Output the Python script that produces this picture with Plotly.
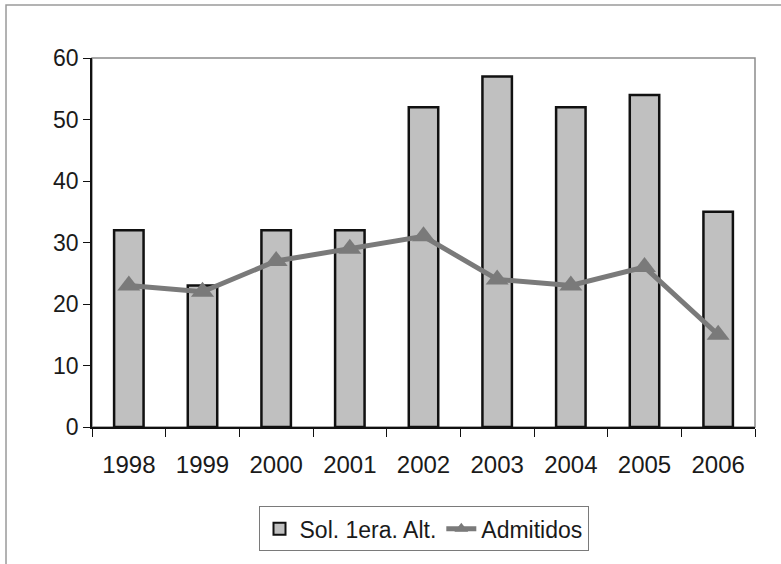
import plotly.graph_objects as go

years = ["1998", "1999", "2000", "2001", "2002", "2003", "2004", "2005", "2006"]
solicitudes = [32, 23, 32, 32, 52, 57, 52, 54, 35]
admitidos = [23, 22, 27, 29, 31, 24, 23, 26, 15]

FONT = "Liberation Sans, Arial, sans-serif"

fig = go.Figure()
fig.add_trace(go.Bar(
    x=years, y=solicitudes, name="Sol. 1era. Alt.",
    marker=dict(color="#c0c0c0", line=dict(color="#111111", width=2.5)),
))
fig.add_trace(go.Scatter(
    x=years, y=admitidos, name="Admitidos", mode="lines+markers",
    line=dict(color="#7a7a7a", width=5),
    marker=dict(symbol="triangle-up", size=20, color="#7a7a7a"),
))

# plot-area box (gray) and outer chart border
fig.add_shape(type="rect", xref="paper", yref="paper", x0=0, x1=1, y0=0, y1=1,
              line=dict(color="#8c8c8c", width=1.5), layer="below")
fig.add_shape(type="rect", xref="paper", yref="paper", x0=-0.1297, x1=1.06, y0=-0.40, y1=1.1436,
              line=dict(color="#9a9a9a", width=1.5), layer="below")

fig.update_layout(
    width=781, height=564,
    margin=dict(l=92, r=26, t=58, b=137),
    paper_bgcolor="white", plot_bgcolor="white",
    font=dict(family=FONT, size=23, color="#1a1a1a"),
    bargap=0.6,
    showlegend=True,
    legend=dict(orientation="h", x=0.5, xanchor="center", y=-0.215, yanchor="top",
                bordercolor="#7a7a7a", borderwidth=1, bgcolor="white",
                font=dict(family=FONT, size=23, color="#1a1a1a"),
                itemsizing="constant", traceorder="normal"),
    xaxis=dict(range=[-0.5, len(years) - 0.5], showline=True, linecolor="#111111", linewidth=1.5,
               ticks="outside", ticklen=8, tickcolor="#111111", tickson="boundaries",
               showgrid=False, tickfont=dict(size=24), ticklabelstandoff=15),
    yaxis=dict(range=[0, 60], dtick=10, showline=True, linecolor="#111111", linewidth=1.5,
               ticks="outside", ticklen=7, tickcolor="#111111",
               showgrid=False, zeroline=False, tickfont=dict(size=23)),
)

fig.write_html("out.html", config={"displayModeBar": False},
               post_script="document.body.style.margin='0';")
